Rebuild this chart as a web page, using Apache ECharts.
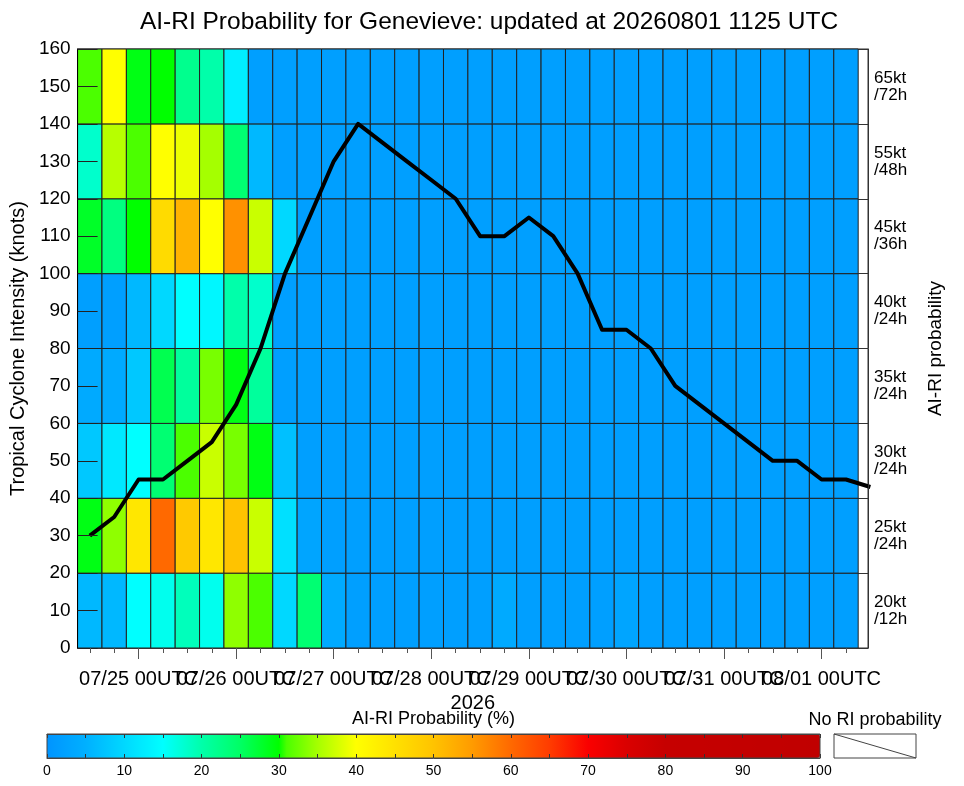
<!DOCTYPE html>
<html><head><meta charset="utf-8">
<script src="https://cdn.jsdelivr.net/npm/echarts@6/dist/echarts.min.js"></script>
<style>html,body{margin:0;padding:0;background:#fff}#c{width:964px;height:786px}</style>
</head><body><div id="c"></div>
<script>
// ---- data ----
// hours since 07/24 00UTC of each analysis column
const hours = [12,18,24,30,36,42,48,54,60,66,72,78,84,90,96,102,108,114,120,126,132,138,144,150,156,162,168,174,180,186,192,198];
// intensity track (last point 08/01 12UTC, clipped at update time)
const trackHours = [12,18,24,30,36,42,48,54,60,66,72,78,84,90,96,102,108,114,120,126,132,138,144,150,156,162,168,174,180,186,192,198,204];
const intensity = [30,35,45,45,50,55,65,80,100,115,130,140,135,130,125,120,110,110,115,110,100,85,85,80,70,65,60,55,50,50,45,45,43];
// RI probability (%) per threshold row
const p20_12 = [6,6,15,16,19,16,34,31,10,24,4,2,2,2,2,2,2,4,2,2,2,2,3,2,2,2,2,2,2,2,2,2];
const p25_24 = [29,34,44,60,49,44,50,37,11,3,2,2,2,2,2,2,2,2,2,2,2,2,2,2,2,2,2,2,2,2,2,2];
const p30_24 = [8,12,15,24,31,37,33,29,7,2,2,2,2,2,2,2,2,2,2,2,2,2,2,2,2,2,2,2,2,2,2,2];
const p35_24 = [4,4,8,26,21,33,29,21,2,2,2,2,2,2,2,2,2,2,2,2,2,2,2,2,2,2,2,2,2,2,2,2];
const p40_24 = [2,2,6,10,15,14,20,18,2,2,2,2,2,2,2,2,2,2,2,2,2,2,2,2,2,2,2,2,2,2,2,2];
const p45_36 = [28,23,30,46,52,40,56,37,10,2,2,2,2,2,2,2,2,2,2,2,2,2,2,2,2,2,2,2,2,2,2,2];
const p55_48 = [18,36,31,40,39,35,24,6,2,2,2,2,2,2,2,2,2,2,2,2,2,2,2,2,2,2,2,2,2,2,2,2];
const p65_72 = [31,40,29,30,22,20,13,2,2,2,2,2,2,2,2,2,2,2,2,2,2,2,2,2,2,2,2,2,2,2,2,2];
const rowLabels = ['20kt\n/12h','25kt\n/24h','30kt\n/24h','35kt\n/24h','40kt\n/24h','45kt\n/36h','55kt\n/48h','65kt\n/72h'];
const bandEdges = [0,20,40,60,80,100,120,140,160];
const majorTickHours = [24,48,72,96,120,144,168,192];
const majorTickLabels = ['07/25 00UTC','07/26 00UTC','07/27 00UTC','07/28 00UTC','07/29 00UTC','07/30 00UTC','07/31 00UTC','08/01 00UTC'];
const axisStartHour = 9;        // 07/24 09UTC
const axisEndHour = 203.4167;   // 08/01 1125UTC

// ---- colour scale (style) ----
const stops = [[0,[0,148,255]],[5,[0,176,255]],[10,[0,216,255]],[15,[0,255,255]],[20,[0,255,170]],[25,[0,255,100]],[30,[0,255,0]],[30.5,[64,255,0]],[35,[165,255,0]],[40,[255,255,0]],[45,[255,225,0]],[50,[255,195,0]],[55,[255,155,0]],[60,[255,105,0]],[65,[255,60,0]],[70,[250,0,0]],[75,[218,0,0]],[80,[198,0,0]],[100,[192,0,0]]];
function cmapAt(v){
  for(let i=0;i<stops.length-1;i++){
    const a=stops[i],b=stops[i+1];
    if(v>=a[0]&&v<=b[0]){
      const f=(v-a[0])/(b[0]-a[0]);
      const c=a[1].map((x,k)=>Math.round(x+(b[1][k]-x)*f));
      return 'rgb('+c.join(',')+')';
    }
  }
  return 'rgb(192,0,0)';
}
const cmap=[]; for(let i=0;i<=200;i++) cmap.push(cmapAt(i/2));

const probRows=[p20_12,p25_24,p30_24,p35_24,p40_24,p45_36,p55_48,p65_72];
const cellData=[];
probRows.forEach((row,r)=>row.forEach((p,c)=>cellData.push([hours[c],r,p])));
const FONT="'Liberation Sans', Arial, Helvetica, sans-serif";
// split the overlapping date labels over two axes so none is auto-hidden
const labelsA = majorTickHours.filter((h,i)=>i%2===0);
const labelsB = majorTickHours.filter((h,i)=>i%2===1);
const dateLabel = v=>{const i=majorTickHours.indexOf(v);return i>=0?majorTickLabels[i]:'';};

const baseX = {gridIndex:0,type:'value',min:axisStartHour,max:axisEndHour,position:'bottom',splitLine:{show:false},z:10};

const chart=echarts.init(document.getElementById('c'),null,{renderer:'canvas'});
chart.setOption({
  animation:false,
  backgroundColor:'#fff',
  textStyle:{fontFamily:FONT,color:'#000'},
  grid:[
    {left:77,top:49,width:791,height:599,show:true,borderColor:'#333',borderWidth:1,backgroundColor:'#fff'},
    {left:47,top:734,width:773,height:24,show:false}
  ],
  xAxis:[
    Object.assign({},baseX,{
     name:'2026',nameLocation:'middle',nameGap:42,nameTextStyle:{fontSize:20,color:'#000',fontFamily:FONT},
     axisLine:{show:true,lineStyle:{color:'#333',width:1}},
     axisTick:{show:true,customValues:majorTickHours,length:11,lineStyle:{color:'#555'}},
     axisLabel:{customValues:labelsA,fontSize:20,color:'#000',margin:21,fontFamily:FONT,
       showMinLabel:true,showMaxLabel:true,hideOverlap:false,formatter:dateLabel}}),
    Object.assign({},baseX,{
     axisLine:{show:false},axisTick:{show:false},
     axisLabel:{customValues:labelsB,fontSize:20,color:'#000',margin:21,fontFamily:FONT,
       showMinLabel:true,showMaxLabel:true,hideOverlap:false,formatter:dateLabel}}),
    Object.assign({},baseX,{
     axisLine:{show:false},axisTick:{show:true,customValues:hours,length:5,lineStyle:{color:'#555'}},
     axisLabel:{show:false}}),
    {gridIndex:1,type:'value',min:0,max:100,interval:5,position:'bottom',
     axisLine:{show:true,lineStyle:{color:'#444'}},
     axisTick:{show:true,inside:true,length:4,lineStyle:{color:'#333'}},
     axisLabel:{fontSize:14,color:'#000',margin:6,fontFamily:FONT,showMinLabel:true,showMaxLabel:true,
       formatter:v=>(v%10===0?String(v):'')},
     splitLine:{show:false},z:10},
    {gridIndex:1,type:'value',min:0,max:100,interval:5,position:'top',
     name:'AI-RI Probability (%)',nameLocation:'middle',nameGap:6,nameTextStyle:{fontSize:18,color:'#000',fontFamily:FONT},
     axisLine:{show:true,lineStyle:{color:'#444'}},
     axisTick:{show:true,inside:true,length:4,lineStyle:{color:'#333'}},
     axisLabel:{show:false},splitLine:{show:false},z:10}
  ],
  yAxis:[
    {gridIndex:0,type:'value',min:0,max:160,interval:10,position:'left',
     name:'Tropical Cyclone Intensity (knots)',nameLocation:'middle',nameRotate:90,nameGap:49,
     nameTextStyle:{fontSize:20,color:'#000',fontFamily:FONT},
     axisLine:{show:true,lineStyle:{color:'#000',width:1}},
     axisTick:{show:true,inside:true,length:20,lineStyle:{color:'#222'}},
     axisLabel:{fontSize:19,color:'#000',margin:7,fontFamily:FONT,showMinLabel:true,showMaxLabel:true},
     splitLine:{show:false},z:10},
    {gridIndex:0,type:'value',min:0,max:160,interval:10,position:'right',
     name:'AI-RI probability',nameLocation:'middle',nameRotate:90,nameGap:58,
     nameTextStyle:{fontSize:19,color:'#000',fontFamily:FONT},
     axisLine:{show:true,lineStyle:{color:'#333',width:1}},
     axisTick:{show:false},
     axisLabel:{fontSize:17,lineHeight:17,color:'#000',margin:6,align:'left',fontFamily:FONT,
       formatter:v=>(v%20===10?rowLabels[(v-10)/20]:'')},
     splitLine:{show:false},z:10},
    {gridIndex:0,type:'value',min:0,max:160,interval:20,position:'left',
     axisLine:{show:false},axisTick:{show:false},axisLabel:{show:false},
     splitLine:{show:true,lineStyle:{color:'#333',width:1}}},
    {gridIndex:1,type:'value',min:0,max:1,show:false}
  ],
  visualMap:{
    type:'continuous',min:0,max:100,seriesIndex:0,dimension:2,
    orient:'horizontal',left:47,top:734,itemWidth:24,itemHeight:773,padding:0,
    calculable:false,hoverLink:false,text:null,
    inRange:{color:cmap}
  },
  series:[
    {type:'custom',name:'AI-RI',xAxisIndex:0,yAxisIndex:0,silent:true,z:2,
     dimensions:['t','row','p'],encode:{x:0,y:1},
     data:cellData,
     renderItem:(params,api)=>{
       const t=api.value(0),r=api.value(1);
       const p0=api.coord([t-3,bandEdges[r+1]]);
       const p1=api.coord([t+3,bandEdges[r]]);
       return {type:'rect',shape:{x:p0[0],y:p0[1],width:p1[0]-p0[0],height:p1[1]-p0[1]},
         style:{fill:api.visual('color'),stroke:'#222',lineWidth:1}};
     }},
    {type:'line',name:'Intensity',xAxisIndex:0,yAxisIndex:0,z:5,silent:true,
     showSymbol:false,symbol:'none',clip:true,
     lineStyle:{color:'#000',width:4,join:'round'},
     data:trackHours.map((h,i)=>[h,intensity[i]])}
  ],
  graphic:[
    {type:'text',x:489,y:22,z:100,style:{text:'AI-RI Probability for Genevieve: updated at 20260801 1125 UTC',
      font:'24.5px '+FONT,fill:'#000',textAlign:'center',textVerticalAlign:'middle'}},
    {type:'rect',z:100,shape:{x:47,y:734,width:773,height:24},style:{fill:'none',stroke:'#444',lineWidth:1}},
    {type:'text',x:875,y:720,z:100,style:{text:'No RI probability',font:'18px '+FONT,fill:'#000',textAlign:'center',textVerticalAlign:'middle'}},
    {type:'rect',z:100,shape:{x:834,y:734,width:82,height:24},style:{fill:'#fff',stroke:'#444',lineWidth:1}},
    {type:'line',z:101,shape:{x1:834,y1:734,x2:916,y2:758},style:{stroke:'#444',lineWidth:1}}
  ]
});
</script>
</body></html>
